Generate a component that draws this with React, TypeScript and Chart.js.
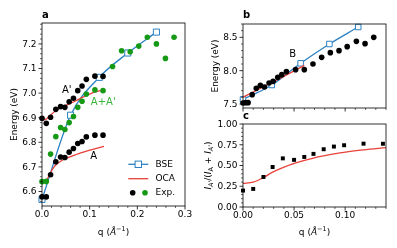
import React, { useEffect, useRef } from 'react';
import { Chart, registerables } from 'chart.js';
Chart.register(...registerables);

const FONT = '"DejaVu Sans", "Liberation Sans", sans-serif';
const W = 397;
const H = 248;

// ---------------- panel a ----------------
const aExpQ = [0, 0.009, 0.018, 0.029, 0.039, 0.048, 0.057, 0.066, 0.075, 0.084, 0.093, 0.111, 0.128];
const aExpA = [6.578, 6.578, 6.668, 6.721, 6.74, 6.738, 6.76, 6.775, 6.795, 6.803, 6.822, 6.829, 6.829];
const aExpAp = [6.898, 6.877, 6.902, 6.934, 6.945, 6.942, 6.965, 6.979, 7.01, 7.029, 7.056, 7.069, 7.068];
const aGreenQ = [0, 0.009, 0.018, 0.029, 0.039, 0.048, 0.057, 0.066, 0.075, 0.084, 0.093, 0.111, 0.128, 0.148, 0.167, 0.185, 0.203, 0.221, 0.24, 0.259, 0.277];
const aGreenE = [6.64, 6.641, 6.752, 6.823, 6.86, 6.852, 6.88, 6.905, 6.942, 6.967, 6.996, 7.013, 7.01, 7.108, 7.172, 7.168, 7.191, 7.227, 7.2, 7.141, 7.227];
const aBseQ = [0, 0.06, 0.12, 0.18, 0.24];
const aBseE = [6.568, 6.91, 7.064, 7.163, 7.248];
const aOcaAQ = [0, 0.005, 0.01, 0.015, 0.02, 0.025, 0.03, 0.04, 0.05, 0.06, 0.07, 0.08, 0.09, 0.1, 0.11, 0.12, 0.13];
const aOcaAE = [6.637, 6.639, 6.648, 6.665, 6.684, 6.699, 6.71, 6.724, 6.734, 6.742, 6.749, 6.756, 6.762, 6.768, 6.773, 6.778, 6.783];
const aOcaApQ = [0, 0.01, 0.02, 0.03, 0.04, 0.05, 0.06, 0.07, 0.08, 0.09, 0.1, 0.11, 0.12, 0.13];
const aOcaApE = [6.89, 6.896, 6.914, 6.93, 6.941, 6.95, 6.959, 6.968, 6.978, 6.988, 6.996, 7.004, 7.009, 7.013];
const aXTicks = [0, 0.1, 0.2, 0.3];
const aYTicks = [6.6, 6.7, 6.8, 6.9, 7.0, 7.1, 7.2];

// ---------------- panel b ----------------
const bExpQ = [0, 0.0025, 0.005, 0.009, 0.013, 0.017, 0.021, 0.0255, 0.0295, 0.034, 0.038, 0.0425, 0.0515, 0.06, 0.0685, 0.077, 0.0855, 0.094, 0.102, 0.111, 0.1195, 0.128];
const bExpE = [7.515, 7.52, 7.52, 7.64, 7.735, 7.78, 7.755, 7.815, 7.84, 7.9, 7.94, 7.985, 8.015, 8.015, 8.1, 8.2, 8.27, 8.3, 8.36, 8.44, 8.405, 8.5];
const bBseQ = [0, 0.0282, 0.0564, 0.0846, 0.1128];
const bBseE = [7.57, 7.785, 8.11, 8.4, 8.655];
const bOcaQ = [0, 0.015, 0.03, 0.045, 0.06];
const bOcaE = [7.6, 7.72, 7.835, 7.955, 8.08];
const bYTicks = [7.5, 8.0, 8.5];

// ---------------- panel c ----------------
const cExpQ = [0, 0.01, 0.02, 0.029, 0.039, 0.05, 0.06, 0.069, 0.079, 0.089, 0.099, 0.118, 0.137];
const cExpV = [0.198, 0.218, 0.362, 0.482, 0.586, 0.568, 0.603, 0.64, 0.696, 0.728, 0.744, 0.763, 0.762];
const cOcaQ = [0, 0.01, 0.02, 0.029, 0.039, 0.0525, 0.069, 0.085, 0.102, 0.118, 0.14];
const cOcaV = [0.285, 0.3, 0.355, 0.42, 0.475, 0.535, 0.59, 0.63, 0.664, 0.688, 0.715];
const cXTicks = [0, 0.05, 0.1];
const cYTicks = [0, 0.25, 0.5, 0.75, 1.0];

const BLUE = '#2b80c2';
const RED = '#e8403a';
const GREEN = '#169a16';
const GREEN_TEXT = '#3db43d';

const YW = 30;
const XH = 22;

type Area = { l: number; t: number; r: number; b: number };
const areaA: Area = { l: 42, t: 23, r: 185, b: 206 };
const areaB: Area = { l: 243, t: 24, r: 386, b: 108 };
const areaC: Area = { l: 243, t: 124, r: 386, b: 207 };

function pts(xs: number[], ys: number[]) {
  return xs.map((x, i) => ({ x, y: ys[i] }));
}

type Seg = { t: string; size: number; italic?: boolean; bold?: boolean; dy?: number; color?: string };
function fontStr(s: Seg) {
  return `${s.italic ? 'italic ' : ''}${s.bold ? 'bold ' : ''}${s.size}px ${FONT}`;
}
function drawRich(ctx: CanvasRenderingContext2D, segs: Seg[], cx: number, base: number, rotate = false) {
  ctx.save();
  ctx.translate(cx, base);
  if (rotate) ctx.rotate(-Math.PI / 2);
  ctx.textBaseline = 'alphabetic';
  ctx.textAlign = 'left';
  let total = 0;
  const ws = segs.map((s) => {
    ctx.font = fontStr(s);
    const w = ctx.measureText(s.t).width;
    total += w;
    return w;
  });
  let x = -total / 2;
  segs.forEach((s, i) => {
    ctx.font = fontStr(s);
    ctx.fillStyle = s.color || '#000';
    ctx.fillText(s.t, x, s.dy || 0);
    x += ws[i];
  });
  ctx.restore();
}

function drawFrame(
  ch: any,
  xMajor: number[],
  yMajor: number[],
  xMinorStep: number,
  yMinorStep: number,
  xDec: number,
  yDec: number,
  xLabels = true,
) {
  const ctx: CanvasRenderingContext2D = ch.ctx;
  const { left, right, top, bottom } = ch.chartArea;
  const xs = ch.scales.x;
  const ys = ch.scales.y;
  ctx.save();
  ctx.strokeStyle = '#000';
  ctx.lineWidth = 0.8;
  ctx.strokeRect(left, top, right - left, bottom - top);
  ctx.beginPath();
  for (const v of xMajor) {
    const p = xs.getPixelForValue(v);
    ctx.moveTo(p, bottom);
    ctx.lineTo(p, bottom + 3.5);
  }
  for (const v of yMajor) {
    const p = ys.getPixelForValue(v);
    ctx.moveTo(left, p);
    ctx.lineTo(left - 3.5, p);
  }
  ctx.stroke();
  ctx.lineWidth = 0.6;
  ctx.beginPath();
  const near = (v: number, arr: number[]) => arr.some((a) => Math.abs(a - v) < 1e-9);
  for (let k = Math.ceil(xs.min / xMinorStep - 1e-9); k * xMinorStep <= xs.max + 1e-9; k++) {
    const v = k * xMinorStep;
    if (near(v, xMajor)) continue;
    const p = xs.getPixelForValue(v);
    ctx.moveTo(p, bottom);
    ctx.lineTo(p, bottom + 2);
  }
  for (let k = Math.ceil(ys.min / yMinorStep - 1e-9); k * yMinorStep <= ys.max + 1e-9; k++) {
    const v = k * yMinorStep;
    if (near(v, yMajor)) continue;
    const p = ys.getPixelForValue(v);
    ctx.moveTo(left, p);
    ctx.lineTo(left - 2, p);
  }
  ctx.stroke();
  // tick labels
  ctx.font = `9px ${FONT}`;
  ctx.fillStyle = '#000';
  ctx.textBaseline = 'middle';
  if (xLabels) {
    ctx.textAlign = 'center';
    for (const v of xMajor) ctx.fillText(v.toFixed(xDec), xs.getPixelForValue(v), bottom + 8.7);
  }
  ctx.textAlign = 'right';
  for (const v of yMajor) ctx.fillText(v.toFixed(yDec), left - 5.5, ys.getPixelForValue(v) + 0.5);
  ctx.restore();
}

function scaleOpts(min: number, max: number, axis: 'x' | 'y') {
  return {
    type: 'linear',
    min,
    max,
    grid: { display: false },
    border: { display: false },
    ticks: { display: false },
    afterFit: (s: any) => {
      if (axis === 'x') s.height = XH;
      else s.width = YW;
    },
  };
}

function baseOptions(area: Area, scales: any) {
  return {
    animation: false,
    responsive: false,
    devicePixelRatio: 1,
    layout: { padding: { left: area.l - YW, top: area.t, right: W - area.r, bottom: H - area.b - XH } },
    plugins: { legend: { display: false }, tooltip: { enabled: false }, title: { display: false } },
    scales,
  };
}

const dotSet = (data: any, color: string, r = 2.8, style: any = 'circle') => ({
  data,
  showLine: false,
  pointStyle: style,
  pointRadius: r,
  pointBackgroundColor: color,
  pointBorderColor: color,
  pointBorderWidth: 0,
  backgroundColor: color,
  borderColor: color,
  clip: false,
  order: 0,
});
const lineSet = (data: any, color: string, order = 1) => ({
  data,
  showLine: true,
  borderColor: color,
  borderWidth: 1.3,
  pointRadius: 0,
  cubicInterpolationMode: 'monotone',
  clip: false,
  order,
});
const bseSet = (data: any, r = 4.3) => ({
  data,
  showLine: true,
  borderColor: BLUE,
  borderWidth: 1.3,
  pointStyle: 'rect',
  pointRadius: r,
  pointBackgroundColor: '#fff',
  pointBorderColor: BLUE,
  pointBorderWidth: 1,
  cubicInterpolationMode: 'monotone',
  clip: false,
  order: 2,
});

function qTitle(ctx: CanvasRenderingContext2D, cx: number, base: number) {
  drawRich(ctx, [
    { t: 'q (', size: 9 },
    { t: 'Å', size: 9, italic: true },
    { t: '−1', size: 6.5, dy: -4 },
    { t: ')', size: 9 },
  ], cx, base);
}

function letter(ctx: CanvasRenderingContext2D, t: string, x: number, y: number) {
  ctx.save();
  ctx.font = `bold 10px ${FONT}`;
  ctx.fillStyle = '#000';
  ctx.textAlign = 'left';
  ctx.textBaseline = 'middle';
  ctx.fillText(t, x, y);
  ctx.restore();
}

function annot(ch: any, t: string, x: number, y: number, color: string, size = 10) {
  const ctx: CanvasRenderingContext2D = ch.ctx;
  ctx.save();
  ctx.font = `${size}px ${FONT}`;
  ctx.fillStyle = color;
  ctx.textAlign = 'center';
  ctx.textBaseline = 'middle';
  ctx.fillText(t, ch.scales.x.getPixelForValue(x), ch.scales.y.getPixelForValue(y));
  ctx.restore();
}

function configA(): any {
  const plugin = {
    id: 'decorA',
    afterDraw: (ch: any) => {
      const ctx: CanvasRenderingContext2D = ch.ctx;
      drawFrame(ch, aXTicks, aYTicks, 0.02, 0.02, 1, 1);
      letter(ctx, 'a', 42, 15);
      qTitle(ctx, (areaA.l + areaA.r) / 2, 234.5);
      drawRich(ctx, [{ t: 'Energy (eV)', size: 9 }], 16.8, (areaA.t + areaA.b) / 2, true);
      annot(ch, "A'", 0.052, 7.01, '#000');
      annot(ch, "A+A'", 0.1285, 6.961, GREEN_TEXT);
      annot(ch, 'A', 0.1085, 6.741, '#000');
      // legend
      ctx.save();
      ctx.lineWidth = 1.3;
      ctx.strokeStyle = BLUE;
      ctx.beginPath();
      ctx.moveTo(128.3, 164.3);
      ctx.lineTo(148.3, 164.3);
      ctx.stroke();
      ctx.fillStyle = '#fff';
      ctx.lineWidth = 1;
      ctx.fillRect(135.1, 161.1, 6.4, 6.4);
      ctx.strokeRect(135.1, 161.1, 6.4, 6.4);
      ctx.strokeStyle = RED;
      ctx.lineWidth = 1.3;
      ctx.beginPath();
      ctx.moveTo(128.3, 178.7);
      ctx.lineTo(148.3, 178.7);
      ctx.stroke();
      ctx.fillStyle = '#000';
      ctx.beginPath();
      ctx.arc(132.7, 192.7, 2.8, 0, Math.PI * 2);
      ctx.fill();
      ctx.fillStyle = GREEN;
      ctx.beginPath();
      ctx.arc(145, 192.7, 2.8, 0, Math.PI * 2);
      ctx.fill();
      ctx.font = `9px ${FONT}`;
      ctx.fillStyle = '#000';
      ctx.textAlign = 'left';
      ctx.textBaseline = 'middle';
      ctx.fillText('BSE', 155.5, 164.3);
      ctx.fillText('OCA', 155.5, 178.7);
      ctx.fillText('Exp.', 155.5, 192.7);
      ctx.restore();
    },
  };
  return {
    type: 'scatter',
    data: {
      datasets: [
        dotSet(pts(aExpQ, aExpA), '#000'),
        dotSet(pts(aExpQ, aExpAp), '#000'),
        dotSet(pts(aGreenQ, aGreenE), GREEN),
        lineSet(pts(aOcaAQ, aOcaAE), RED),
        lineSet(pts(aOcaApQ, aOcaApE), RED),
        bseSet(pts(aBseQ, aBseE)),
      ],
    },
    options: baseOptions(areaA, {
      x: scaleOpts(0, 0.3, 'x'),
      y: scaleOpts(6.541, 7.285, 'y'),
    }),
    plugins: [plugin],
  };
}

function configB(): any {
  const plugin = {
    id: 'decorB',
    afterDraw: (ch: any) => {
      const ctx: CanvasRenderingContext2D = ch.ctx;
      drawFrame(ch, cXTicks, bYTicks, 0.01, 0.1, 2, 1, false);
      letter(ctx, 'b', 243, 15);
      drawRich(ctx, [{ t: 'Energy (eV)', size: 9 }], 218, (areaB.t + areaB.b) / 2, true);
      annot(ch, 'B', 0.0486, 8.25, '#000');
    },
  };
  return {
    type: 'scatter',
    data: {
      datasets: [
        dotSet(pts(bExpQ, bExpE), '#000'),
        lineSet(pts(bOcaQ, bOcaE), RED),
        bseSet(pts(bBseQ, bBseE), 3.9),
      ],
    },
    options: baseOptions(areaB, {
      x: scaleOpts(0, 0.14, 'x'),
      y: scaleOpts(7.44, 8.7, 'y'),
    }),
    plugins: [plugin],
  };
}

function configC(): any {
  const plugin = {
    id: 'decorC',
    afterDraw: (ch: any) => {
      const ctx: CanvasRenderingContext2D = ch.ctx;
      drawFrame(ch, cXTicks, cYTicks, 0.01, 0.05, 2, 2);
      letter(ctx, 'c', 243, 116);
      qTitle(ctx, (areaC.l + areaC.r) / 2, 234.5);
      drawRich(ctx, [
        { t: 'I', size: 9, italic: true },
        { t: "A'", size: 6.5, italic: true, dy: 2 },
        { t: '/(', size: 9 },
        { t: 'I', size: 9, italic: true },
        { t: 'A', size: 6.5, dy: 2 },
        { t: ' + ', size: 9 },
        { t: 'I', size: 9, italic: true },
        { t: "A'", size: 6.5, italic: true, dy: 2 },
        { t: ')', size: 9 },
      ], 211, (areaC.t + areaC.b) / 2, true);
    },
  };
  return {
    type: 'scatter',
    data: {
      datasets: [
        dotSet(pts(cExpQ, cExpV), '#000', 2.8, 'rect'),
        lineSet(pts(cOcaQ, cOcaV), RED),
      ],
    },
    options: baseOptions(areaC, {
      x: scaleOpts(0, 0.14, 'x'),
      y: scaleOpts(0, 1, 'y'),
    }),
    plugins: [plugin],
  };
}

export default function App() {
  const ra = useRef<HTMLCanvasElement>(null);
  const rb = useRef<HTMLCanvasElement>(null);
  const rc = useRef<HTMLCanvasElement>(null);
  useEffect(() => {
    const charts = [
      new Chart(ra.current as HTMLCanvasElement, configA()),
      new Chart(rb.current as HTMLCanvasElement, configB()),
      new Chart(rc.current as HTMLCanvasElement, configC()),
    ];
    return () => charts.forEach((c) => c.destroy());
  }, []);
  const cs: React.CSSProperties = { position: 'absolute', left: 0, top: 0, width: W, height: H };
  return (
    <div style={{ position: 'fixed', left: 0, top: 0, width: W, height: H, background: '#fff' }}>
      <canvas ref={ra} width={W} height={H} style={cs} />
      <canvas ref={rb} width={W} height={H} style={cs} />
      <canvas ref={rc} width={W} height={H} style={cs} />
    </div>
  );
}
